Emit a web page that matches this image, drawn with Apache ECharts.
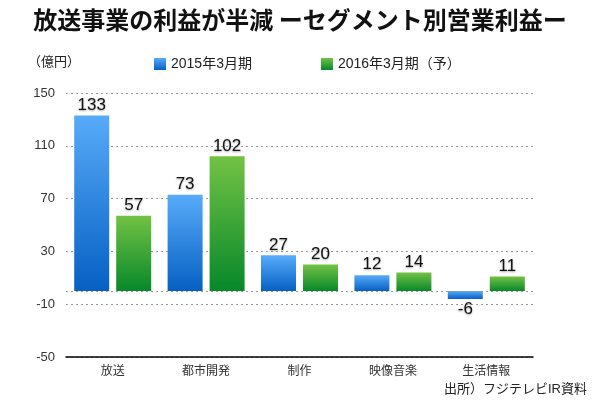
<!DOCTYPE html>
<html>
<head>
<meta charset="utf-8">
<script src="https://cdn.jsdelivr.net/npm/echarts@6/dist/echarts.min.js"></script>
<style>
  html, body { margin: 0; padding: 0; background: #fff; }
  #main { width: 600px; height: 400px; }
</style>
</head>
<body>
<div id="main"></div>
<script>
// セグメント別営業利益（億円）
const categories = ["放送", "都市開発", "制作", "映像音楽", "生活情報"];
const fy2015 = [133, 73, 27, 12, -6];
const fy2016 = [57, 102, 20, 14, 11];
const seriesNames = ["2015年3月期", "2016年3月期（予）"];

const FONT = "'Liberation Sans', 'Noto Sans CJK JP', sans-serif";
const CJK = "'Noto Sans CJK JP', sans-serif";

const grad = (top, bottom) => new echarts.graphic.LinearGradient(0, 0, 0, 1, [
  { offset: 0, color: top },
  { offset: 1, color: bottom }
]);

const blue = grad("#58abf9", "#0660c3");
const green = grad("#72c244", "#07882a");

const valueLabel = {
  show: true,
  position: "top",
  distance: 2,
  fontFamily: FONT,
  fontSize: 17,
  color: "#111",
  textShadowColor: "rgba(0,0,0,0.35)",
  textShadowBlur: 2,
  textShadowOffsetY: 1
};

const myChart = echarts.init(document.getElementById("main"));

const option = {
  backgroundColor: "#fff",
  animation: false,
  title: [
    {
      text: "放送事業の利益が半減 ーセグメント別営業利益ー",
      left: "center",
      top: 3,
      textStyle: { fontFamily: CJK, fontSize: 24, fontWeight: "bold", color: "#111" }
    },
    {
      text: "（億円）",
      left: 23,
      top: 50,
      textStyle: { fontFamily: CJK, fontSize: 13, fontWeight: "normal", color: "#222" }
    },
    {
      text: "出所）フジテレビIR資料",
      right: 8,
      top: 378,
      textStyle: { fontFamily: FONT, fontSize: 13, fontWeight: "normal", color: "#222" }
    }
  ],
  legend: {
    top: 52,
    left: 149,
    itemWidth: 12,
    itemHeight: 12,
    itemGap: 69,
    icon: "rect",
    textStyle: { fontFamily: FONT, fontSize: 14, color: "#222" },
    data: seriesNames
  },
  grid: { left: 66, right: 67, top: 93, bottom: 43 },
  xAxis: {
    type: "category",
    data: categories,
    axisLine: { onZero: false, lineStyle: { color: "#000", width: 1.5 } },
    axisTick: { show: false },
    axisLabel: { fontFamily: CJK, fontSize: 12, color: "#333", margin: 7 }
  },
  yAxis: {
    type: "value",
    min: -50,
    max: 150,
    interval: 40,
    axisLine: { show: false },
    axisTick: { show: false },
    axisLabel: {
      fontFamily: FONT,
      fontSize: 13,
      color: "#333",
      margin: 11,
      showMinLabel: true
    },
    splitLine: {
      show: true,
      lineStyle: { color: "#999", type: [2, 3], width: 1 }
    }
  },
  series: [
    {
      name: seriesNames[0],
      type: "bar",
      data: fy2015.map(v => ({
        value: v,
        label: v < 0 ? { position: "bottom" } : undefined
      })),
      barWidth: 35,
      barGap: "20%",
      itemStyle: { color: blue },
      label: valueLabel,
      markLine: {
        silent: true,
        symbol: "none",
        label: { show: false },
        lineStyle: { color: "#999", type: [2, 3], width: 1 },
        data: [{ yAxis: 0 }]
      }
    },
    {
      name: seriesNames[1],
      type: "bar",
      data: fy2016,
      barWidth: 35,
      itemStyle: { color: green },
      label: valueLabel
    }
  ]
};

myChart.setOption(option);
</script>
</body>
</html>
